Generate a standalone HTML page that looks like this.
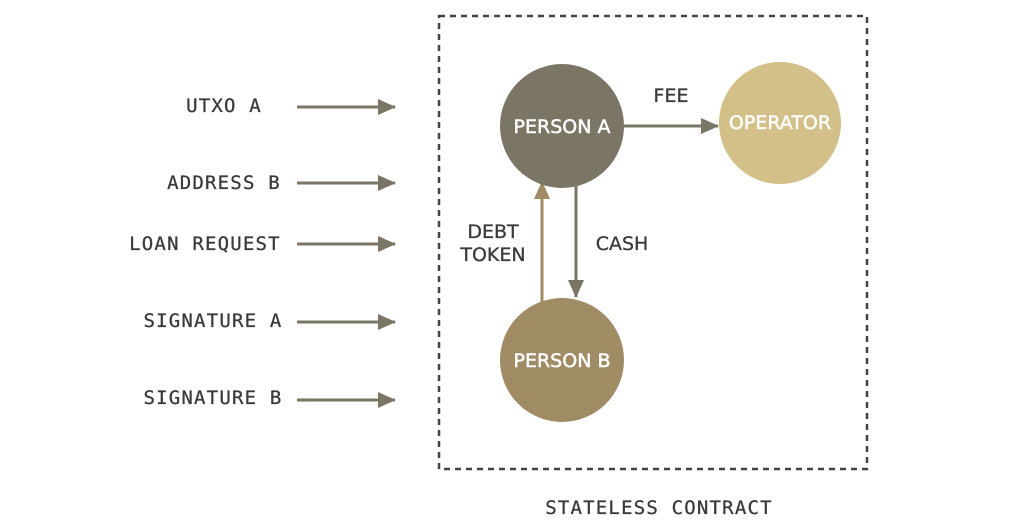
<!DOCTYPE html>
<html><head><style>html,body{margin:0;padding:0;background:#fff;}svg{display:block}</style></head>
<body>
<svg width="1036" height="520" viewBox="0 0 1036 520" xmlns="http://www.w3.org/2000/svg">
<defs>
<marker id="ah2" viewBox="0 0 18 18" markerWidth="18" markerHeight="18" refX="17" refY="9" orient="auto" markerUnits="userSpaceOnUse">
<path d="M0,1 L18,9 L0,17 z" fill="#7a7565"/></marker>
<marker id="ah3" viewBox="0 0 18 18" markerWidth="18" markerHeight="18" refX="17" refY="9" orient="auto" markerUnits="userSpaceOnUse">
<path d="M0,1 L18,9 L0,17 z" fill="#a08c64"/></marker>
</defs>
<rect x="439" y="16" width="428" height="453" fill="none" stroke="#444" stroke-width="2.5" stroke-dasharray="6,5"/>
<g font-family="DejaVu Sans Mono, Liberation Mono, monospace" font-size="19" letter-spacing="1.2" fill="#3a3a3a" text-anchor="middle" stroke="#3a3a3a" stroke-width="0.3">
<text x="224" y="112">UTXO A</text>
<text x="224" y="189">ADDRESS B</text>
<text x="205" y="250">LOAN REQUEST</text>
<text x="213" y="327">SIGNATURE A</text>
<text x="213" y="404">SIGNATURE B</text>
<text x="659" y="514">STATELESS CONTRACT</text>
</g>
<g stroke="#7a7565" stroke-width="3" marker-end="url(#ah2)">
<line x1="297" y1="107" x2="395" y2="107"/>
<line x1="297" y1="183" x2="395" y2="183"/>
<line x1="297" y1="244" x2="395" y2="244"/>
<line x1="297" y1="322" x2="395" y2="322"/>
<line x1="297" y1="400" x2="395" y2="400"/>
<line x1="624" y1="126" x2="718" y2="126"/>
<line x1="576" y1="186" x2="576" y2="297"/>
</g>
<line x1="542" y1="302" x2="542" y2="182" stroke="#a08c64" stroke-width="3" marker-end="url(#ah3)"/>
<circle cx="562" cy="126" r="62" fill="#7a7565"/>
<circle cx="780" cy="123" r="61" fill="#d3bf88"/>
<circle cx="562" cy="360" r="62" fill="#a08c64"/>
<g font-family="DejaVu Sans, Liberation Sans, sans-serif" font-size="19" text-anchor="middle" stroke-width="0.5">
<text x="562" y="133" fill="#fff" stroke="#fff">PERSON A</text>
<text x="780" y="129" fill="#fff" stroke="#fff">OPERATOR</text>
<text x="562" y="367" fill="#fff" stroke="#fff">PERSON B</text>
<text x="671" y="102" fill="#3a3a3a" stroke="#3a3a3a" stroke-width="0.3">FEE</text>
<text x="622" y="250" fill="#3a3a3a" stroke="#3a3a3a" stroke-width="0.3">CASH</text>
<text x="493" y="238" fill="#3a3a3a" stroke="#3a3a3a" stroke-width="0.3">DEBT</text>
<text x="493" y="261" fill="#3a3a3a" stroke="#3a3a3a" stroke-width="0.3">TOKEN</text>
</g>
</svg>
</body></html>
